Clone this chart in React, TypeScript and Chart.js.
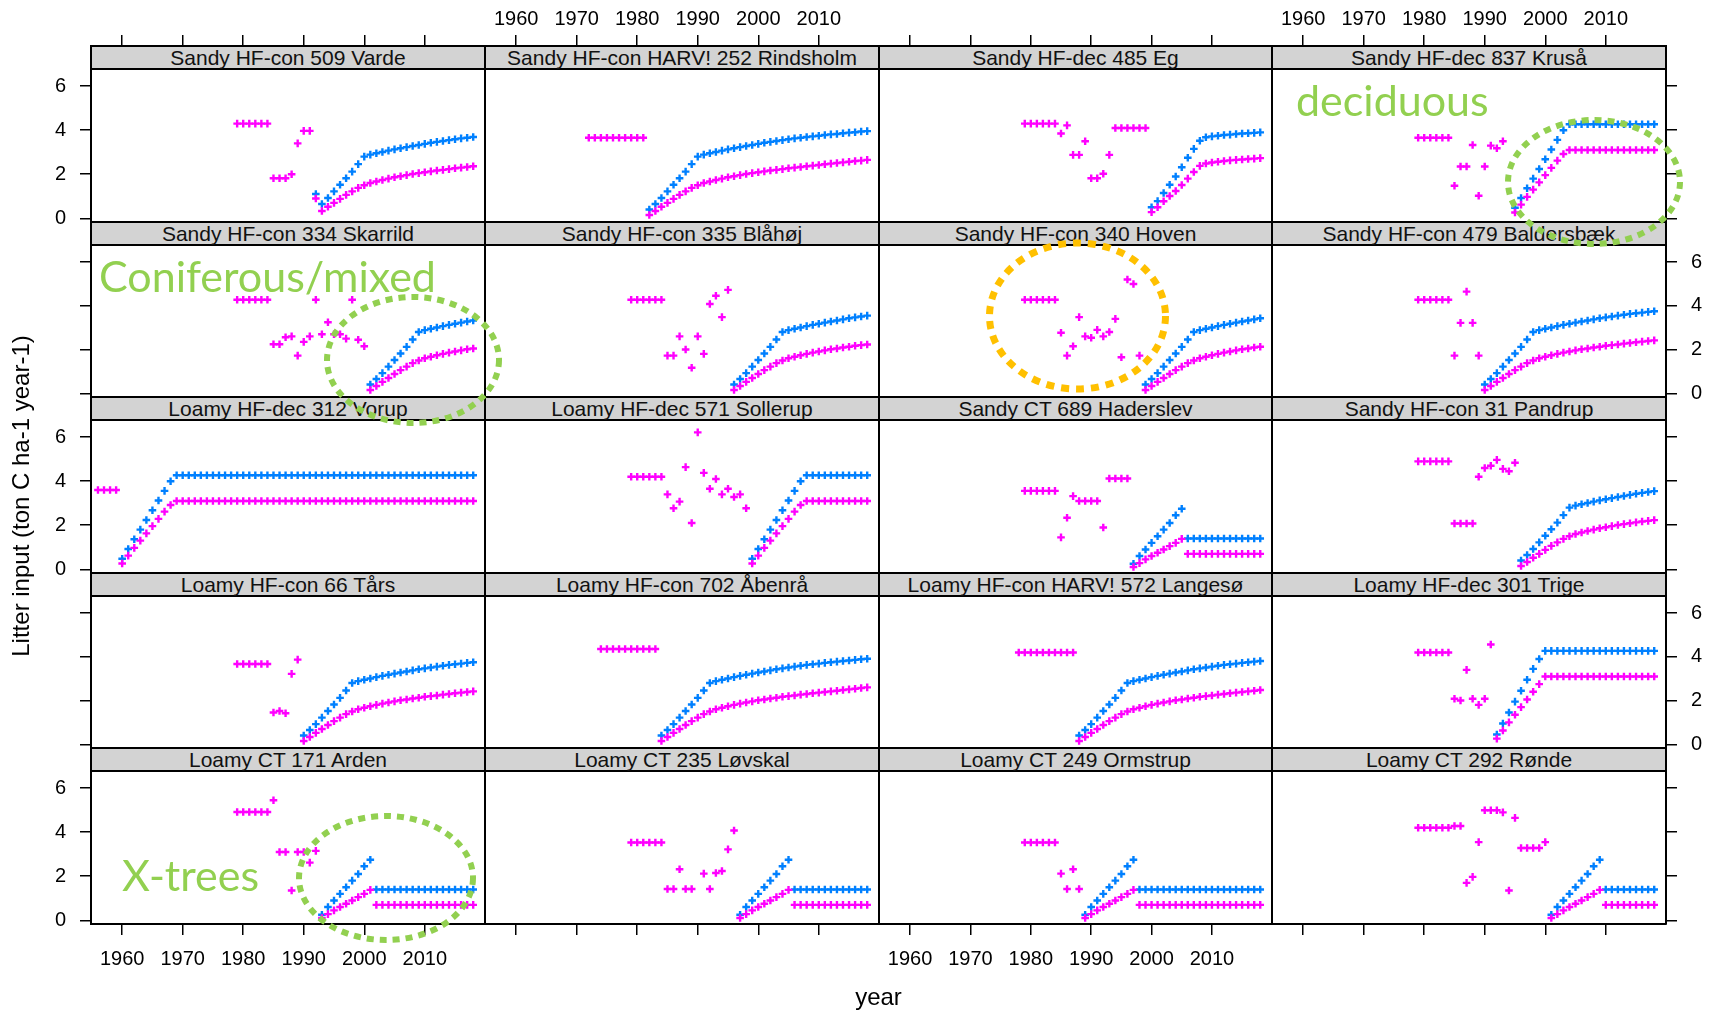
import React, { useEffect, useRef } from 'react';
import { Chart, registerables } from 'chart.js';

Chart.register(...registerables);

// ---------------- axes ----------------
const X_MIN = 1954.85;
const X_MAX = 2019.95;
const Y_MIN = -0.17;
const Y_MAX = 6.78;
const YEAR_TICKS = [1960, 1970, 1980, 1990, 2000, 2010];
const VALUE_TICKS = [0, 2, 4, 6];

// ---------------- data ----------------
// each panel: first year of the two modelled series, the series values per year,
// and the earlier magenta observations as [year, value]

// Sandy HF-con 509 Varde
const vardeFrom = 1992;
const vardeBlue = [1.10, 0.65, 0.92, 1.22, 1.52, 1.82, 2.12, 2.46, 2.80, 2.89, 2.95, 3.01, 3.07, 3.13, 3.18, 3.23, 3.28, 3.33, 3.38, 3.43, 3.47, 3.51, 3.55, 3.59, 3.63, 3.66, 3.69];
const vardePink = [0.90, 0.33, 0.52, 0.70, 0.88, 1.06, 1.22, 1.38, 1.50, 1.60, 1.67, 1.74, 1.80, 1.86, 1.91, 1.96, 2.01, 2.05, 2.09, 2.13, 2.17, 2.20, 2.23, 2.27, 2.30, 2.33, 2.36];
const vardeObs = [[1979, 4.3], [1980, 4.3], [1981, 4.3], [1982, 4.3], [1983, 4.3], [1984, 4.3], [1985, 1.82], [1986, 1.82], [1987, 1.82], [1988, 2.0], [1989, 3.4], [1990, 3.97], [1991, 3.97]];

// Sandy HF-con HARV! 252 Rindsholm
const rindsholmFrom = 1982;
const rindsholmBlue = [0.40, 0.65, 0.92, 1.22, 1.52, 1.82, 2.12, 2.46, 2.80, 2.89, 2.95, 3.01, 3.07, 3.13, 3.18, 3.23, 3.28, 3.33, 3.38, 3.43, 3.47, 3.51, 3.55, 3.59, 3.63, 3.66, 3.69, 3.72, 3.75, 3.78, 3.81, 3.83, 3.86, 3.89, 3.91, 3.94, 3.96];
const rindsholmPink = [0.15, 0.33, 0.52, 0.70, 0.88, 1.06, 1.22, 1.38, 1.50, 1.60, 1.67, 1.74, 1.80, 1.86, 1.91, 1.96, 2.01, 2.05, 2.09, 2.13, 2.17, 2.20, 2.23, 2.27, 2.30, 2.33, 2.36, 2.39, 2.42, 2.45, 2.48, 2.51, 2.54, 2.57, 2.60, 2.62, 2.65];
const rindsholmObs = [[1972, 3.66], [1973, 3.66], [1974, 3.66], [1975, 3.66], [1976, 3.66], [1977, 3.66], [1978, 3.66], [1979, 3.66], [1980, 3.66], [1981, 3.66]];

// Sandy HF-dec 485 Eg
const egFrom = 2000;
const egBlue = [0.50, 0.78, 1.15, 1.52, 1.90, 2.32, 2.75, 3.15, 3.52, 3.68, 3.72, 3.75, 3.78, 3.80, 3.83, 3.85, 3.86, 3.88, 3.90];
const egPink = [0.28, 0.50, 0.77, 1.01, 1.24, 1.51, 1.80, 2.10, 2.38, 2.49, 2.53, 2.57, 2.60, 2.63, 2.65, 2.67, 2.69, 2.71, 2.73];
const egObs = [[1979, 4.3], [1980, 4.3], [1981, 4.3], [1982, 4.3], [1983, 4.3], [1984, 4.3], [1985, 3.85], [1986, 4.22], [1987, 2.88], [1988, 2.88], [1989, 3.5], [1990, 1.82], [1991, 1.82], [1992, 2.02], [1993, 2.88], [1994, 4.1], [1995, 4.1], [1996, 4.1], [1997, 4.1], [1998, 4.1], [1999, 4.1]];

// Sandy HF-dec 837 Kruså
const krusaFrom = 1995;
const krusaBlue = [0.48, 0.92, 1.36, 1.80, 2.24, 2.68, 3.12, 3.56, 4.00, 4.27, 4.27, 4.27, 4.27, 4.27, 4.27, 4.27, 4.27, 4.27, 4.27, 4.27, 4.27, 4.27, 4.27, 4.27];
const krusaPink = [0.26, 0.62, 0.97, 1.30, 1.63, 1.96, 2.29, 2.62, 2.92, 3.10, 3.10, 3.10, 3.10, 3.10, 3.10, 3.10, 3.10, 3.10, 3.10, 3.10, 3.10, 3.10, 3.10, 3.10];
const krusaObs = [[1979, 3.66], [1980, 3.66], [1981, 3.66], [1982, 3.66], [1983, 3.66], [1984, 3.66], [1985, 1.48], [1986, 2.35], [1987, 2.35], [1988, 3.33], [1989, 1.02], [1990, 2.35], [1991, 3.3], [1992, 3.18], [1993, 3.5]];

// Sandy HF-con 334 Skarrild
const skarrildFrom = 2001;
const skarrildBlue = [0.40, 0.65, 0.92, 1.22, 1.52, 1.82, 2.12, 2.46, 2.80, 2.89, 2.95, 3.01, 3.07, 3.13, 3.18, 3.23, 3.28, 3.33];
const skarrildPink = [0.15, 0.33, 0.52, 0.70, 0.88, 1.06, 1.22, 1.38, 1.50, 1.60, 1.67, 1.74, 1.80, 1.86, 1.91, 1.96, 2.01, 2.05];
const skarrildObs = [[1979, 4.28], [1980, 4.28], [1981, 4.28], [1982, 4.28], [1983, 4.28], [1984, 4.28], [1985, 2.24], [1986, 2.24], [1987, 2.56], [1988, 2.6], [1989, 1.72], [1990, 2.35], [1991, 2.6], [1992, 4.28], [1993, 2.7], [1994, 3.25], [1995, 2.7], [1996, 2.7], [1997, 2.5], [1998, 4.28], [1999, 2.45], [2000, 2.15]];

// Sandy HF-con 335 Blåhøj
const blahojFrom = 1996;
const blahojBlue = [0.40, 0.65, 0.92, 1.22, 1.52, 1.82, 2.12, 2.46, 2.80, 2.89, 2.95, 3.01, 3.07, 3.13, 3.18, 3.23, 3.28, 3.33, 3.38, 3.43, 3.47, 3.51, 3.55];
const blahojPink = [0.15, 0.33, 0.52, 0.70, 0.88, 1.06, 1.22, 1.38, 1.50, 1.60, 1.67, 1.74, 1.80, 1.86, 1.91, 1.96, 2.01, 2.05, 2.09, 2.13, 2.17, 2.20, 2.23];
const blahojObs = [[1979, 4.28], [1980, 4.28], [1981, 4.28], [1982, 4.28], [1983, 4.28], [1984, 4.28], [1985, 1.72], [1986, 1.72], [1987, 2.6], [1988, 2.0], [1989, 1.17], [1990, 2.6], [1991, 1.8], [1992, 4.08], [1993, 4.46], [1994, 3.48], [1995, 4.73]];

// Sandy HF-con 340 Hoven
const hovenFrom = 1999;
const hovenBlue = [0.40, 0.65, 0.92, 1.22, 1.52, 1.82, 2.12, 2.46, 2.80, 2.89, 2.95, 3.01, 3.07, 3.13, 3.18, 3.23, 3.28, 3.33, 3.38, 3.43];
const hovenPink = [0.15, 0.33, 0.52, 0.70, 0.88, 1.06, 1.22, 1.38, 1.50, 1.60, 1.67, 1.74, 1.80, 1.86, 1.91, 1.96, 2.01, 2.05, 2.09, 2.13];
const hovenObs = [[1979, 4.28], [1980, 4.28], [1981, 4.28], [1982, 4.28], [1983, 4.28], [1984, 4.28], [1985, 2.77], [1986, 1.72], [1987, 2.15], [1988, 3.48], [1989, 2.6], [1990, 2.54], [1991, 2.9], [1992, 2.6], [1993, 2.8], [1994, 3.4], [1995, 1.65], [1996, 5.2], [1997, 5.0], [1998, 1.72]];

// Sandy HF-con 479 Baldersbæk
const baldersbaekFrom = 1990;
const baldersbaekBlue = [0.40, 0.65, 0.92, 1.22, 1.52, 1.82, 2.12, 2.46, 2.80, 2.89, 2.95, 3.01, 3.07, 3.13, 3.18, 3.23, 3.28, 3.33, 3.38, 3.43, 3.47, 3.51, 3.55, 3.59, 3.63, 3.66, 3.69, 3.72, 3.75];
const baldersbaekPink = [0.15, 0.33, 0.52, 0.70, 0.88, 1.06, 1.22, 1.38, 1.50, 1.60, 1.67, 1.74, 1.80, 1.86, 1.91, 1.96, 2.01, 2.05, 2.09, 2.13, 2.17, 2.20, 2.23, 2.27, 2.30, 2.33, 2.36, 2.39, 2.42];
const baldersbaekObs = [[1979, 4.28], [1980, 4.28], [1981, 4.28], [1982, 4.28], [1983, 4.28], [1984, 4.28], [1985, 1.72], [1986, 3.22], [1987, 4.65], [1988, 3.22], [1989, 1.72]];

// Loamy HF-dec 312 Vorup
const vorupFrom = 1960;
const vorupBlue = [0.48, 0.92, 1.36, 1.80, 2.24, 2.68, 3.12, 3.56, 4.00,
  4.27, 4.27, 4.27, 4.27, 4.27, 4.27, 4.27, 4.27, 4.27, 4.27,
  4.27, 4.27, 4.27, 4.27, 4.27, 4.27, 4.27, 4.27, 4.27, 4.27,
  4.27, 4.27, 4.27, 4.27, 4.27, 4.27, 4.27, 4.27, 4.27, 4.27,
  4.27, 4.27, 4.27, 4.27, 4.27, 4.27, 4.27, 4.27, 4.27, 4.27,
  4.27, 4.27, 4.27, 4.27, 4.27, 4.27, 4.27, 4.27, 4.27, 4.27];
const vorupPink = [0.26, 0.62, 0.97, 1.30, 1.63, 1.96, 2.29, 2.62, 2.92,
  3.10, 3.10, 3.10, 3.10, 3.10, 3.10, 3.10, 3.10, 3.10, 3.10,
  3.10, 3.10, 3.10, 3.10, 3.10, 3.10, 3.10, 3.10, 3.10, 3.10,
  3.10, 3.10, 3.10, 3.10, 3.10, 3.10, 3.10, 3.10, 3.10, 3.10,
  3.10, 3.10, 3.10, 3.10, 3.10, 3.10, 3.10, 3.10, 3.10, 3.10,
  3.10, 3.10, 3.10, 3.10, 3.10, 3.10, 3.10, 3.10, 3.10, 3.10];
const vorupObs = [[1956, 3.6], [1957, 3.6], [1958, 3.6], [1959, 3.6]];

// Loamy HF-dec 571 Sollerup
const sollerupFrom = 1999;
const sollerupBlue = [0.48, 0.92, 1.36, 1.80, 2.24, 2.68, 3.12, 3.56, 4.00, 4.27, 4.27, 4.27, 4.27, 4.27, 4.27, 4.27, 4.27, 4.27, 4.27, 4.27];
const sollerupPink = [0.26, 0.62, 0.97, 1.30, 1.63, 1.96, 2.29, 2.62, 2.92, 3.10, 3.10, 3.10, 3.10, 3.10, 3.10, 3.10, 3.10, 3.10, 3.10, 3.10];
const sollerupObs = [[1979, 4.2], [1980, 4.2], [1981, 4.2], [1982, 4.2], [1983, 4.2], [1984, 4.2], [1985, 3.4], [1986, 2.77], [1987, 3.07], [1988, 4.64], [1989, 2.1], [1990, 6.22], [1991, 4.38], [1992, 3.66], [1993, 4.1], [1994, 3.4], [1995, 3.66], [1996, 3.28], [1997, 3.4], [1998, 2.77]];

// Sandy CT 689 Haderslev
const haderslevFrom = 1997;
const haderslevBlue = [0.25, 0.60, 0.90, 1.20, 1.50, 1.80, 2.10, 2.45, 2.75, 1.40, 1.40, 1.40, 1.40, 1.40, 1.40, 1.40, 1.40, 1.40, 1.40, 1.40, 1.40, 1.40];
const haderslevPink = [0.10, 0.28, 0.45, 0.60, 0.75, 0.90, 1.05, 1.20, 1.38, 0.70, 0.70, 0.70, 0.70, 0.70, 0.70, 0.70, 0.70, 0.70, 0.70, 0.70, 0.70, 0.70];
const haderslevObs = [[1979, 3.56], [1980, 3.56], [1981, 3.56], [1982, 3.56], [1983, 3.56], [1984, 3.56], [1985, 1.45], [1986, 2.34], [1987, 3.32], [1988, 3.1], [1989, 3.1], [1990, 3.1], [1991, 3.1], [1992, 1.9], [1993, 4.12], [1994, 4.12], [1995, 4.12], [1996, 4.12]];

// Sandy HF-con 31 Pandrup
const pandrupFrom = 1996;
const pandrupBlue = [0.40, 0.65, 0.92, 1.22, 1.52, 1.82, 2.12, 2.46, 2.80, 2.89, 2.95, 3.01, 3.07, 3.13, 3.18, 3.23, 3.28, 3.33, 3.38, 3.43, 3.47, 3.51, 3.55];
const pandrupPink = [0.15, 0.33, 0.52, 0.70, 0.88, 1.06, 1.22, 1.38, 1.50, 1.60, 1.67, 1.74, 1.80, 1.86, 1.91, 1.96, 2.01, 2.05, 2.09, 2.13, 2.17, 2.20, 2.23];
const pandrupObs = [[1979, 4.9], [1980, 4.9], [1981, 4.9], [1982, 4.9], [1983, 4.9], [1984, 4.9], [1985, 2.08], [1986, 2.08], [1987, 2.08], [1988, 2.08], [1989, 4.2], [1990, 4.6], [1991, 4.7], [1992, 4.97], [1993, 4.56], [1994, 4.45], [1995, 4.84]];

// Loamy HF-con 66 Tårs
const tarsFrom = 1990;
const tarsBlue = [0.40, 0.65, 0.92, 1.22, 1.52, 1.82, 2.12, 2.46, 2.80, 2.89, 2.95, 3.01, 3.07, 3.13, 3.18, 3.23, 3.28, 3.33, 3.38, 3.43, 3.47, 3.51, 3.55, 3.59, 3.63, 3.66, 3.69, 3.72, 3.75];
const tarsPink = [0.15, 0.33, 0.52, 0.70, 0.88, 1.06, 1.22, 1.38, 1.50, 1.60, 1.67, 1.74, 1.80, 1.86, 1.91, 1.96, 2.01, 2.05, 2.09, 2.13, 2.17, 2.20, 2.23, 2.27, 2.30, 2.33, 2.36, 2.39, 2.42];
const tarsObs = [[1979, 3.67], [1980, 3.67], [1981, 3.67], [1982, 3.67], [1983, 3.67], [1984, 3.67], [1985, 1.45], [1986, 1.52], [1987, 1.42], [1988, 3.22], [1989, 3.87]];

// Loamy HF-con 702 Åbenrå
const abenraFrom = 1984;
const abenraBlue = [0.40, 0.65, 0.92, 1.22, 1.52, 1.82, 2.12, 2.46, 2.80, 2.89, 2.95, 3.01, 3.07, 3.13, 3.18, 3.23, 3.28, 3.33, 3.38, 3.43, 3.47, 3.51, 3.55, 3.59, 3.63, 3.66, 3.69, 3.72, 3.75, 3.78, 3.81, 3.83, 3.86, 3.89, 3.91];
const abenraPink = [0.15, 0.33, 0.52, 0.70, 0.88, 1.06, 1.22, 1.38, 1.50, 1.60, 1.67, 1.74, 1.80, 1.86, 1.91, 1.96, 2.01, 2.05, 2.09, 2.13, 2.17, 2.20, 2.23, 2.27, 2.30, 2.33, 2.36, 2.39, 2.42, 2.45, 2.48, 2.51, 2.54, 2.57, 2.60];
const abenraObs = [[1974, 4.36], [1975, 4.36], [1976, 4.36], [1977, 4.36], [1978, 4.36], [1979, 4.36], [1980, 4.36], [1981, 4.36], [1982, 4.36], [1983, 4.36]];

// Loamy HF-con HARV! 572 Langesø
const langesoFrom = 1988;
const langesoBlue = [0.40, 0.65, 0.92, 1.22, 1.52, 1.82, 2.12, 2.46, 2.80, 2.89, 2.95, 3.01, 3.07, 3.13, 3.18, 3.23, 3.28, 3.33, 3.38, 3.43, 3.47, 3.51, 3.55, 3.59, 3.63, 3.66, 3.69, 3.72, 3.75, 3.78, 3.81];
const langesoPink = [0.15, 0.33, 0.52, 0.70, 0.88, 1.06, 1.22, 1.38, 1.50, 1.60, 1.67, 1.74, 1.80, 1.86, 1.91, 1.96, 2.01, 2.05, 2.09, 2.13, 2.17, 2.20, 2.23, 2.27, 2.30, 2.33, 2.36, 2.39, 2.42, 2.45, 2.48];
const langesoObs = [[1978, 4.2], [1979, 4.2], [1980, 4.2], [1981, 4.2], [1982, 4.2], [1983, 4.2], [1984, 4.2], [1985, 4.2], [1986, 4.2], [1987, 4.2]];

// Loamy HF-dec 301 Trige
const trigeFrom = 1992;
const trigeBlue = [0.45, 0.95, 1.45, 1.95, 2.45, 2.95, 3.45, 3.90, 4.27, 4.27, 4.27, 4.27, 4.27, 4.27, 4.27, 4.27, 4.27, 4.27, 4.27, 4.27, 4.27, 4.27, 4.27, 4.27, 4.27, 4.27, 4.27];
const trigePink = [0.26, 0.63, 1.00, 1.35, 1.70, 2.05, 2.40, 2.75, 3.10, 3.10, 3.10, 3.10, 3.10, 3.10, 3.10, 3.10, 3.10, 3.10, 3.10, 3.10, 3.10, 3.10, 3.10, 3.10, 3.10, 3.10, 3.10];
const trigeObs = [[1979, 4.2], [1980, 4.2], [1981, 4.2], [1982, 4.2], [1983, 4.2], [1984, 4.2], [1985, 2.08], [1986, 2.0], [1987, 3.4], [1988, 2.08], [1989, 1.8], [1990, 2.08], [1991, 4.56]];

// Loamy CT 171 Arden
const ardenFrom = 1993;
const ardenBlue = [0.25, 0.60, 0.90, 1.20, 1.50, 1.80, 2.10, 2.45, 2.75, 1.40, 1.40, 1.40, 1.40, 1.40, 1.40, 1.40, 1.40, 1.40, 1.40, 1.40, 1.40, 1.40, 1.40, 1.40, 1.40, 1.40];
const ardenPink = [0.10, 0.28, 0.45, 0.60, 0.75, 0.90, 1.05, 1.20, 1.38, 0.70, 0.70, 0.70, 0.70, 0.70, 0.70, 0.70, 0.70, 0.70, 0.70, 0.70, 0.70, 0.70, 0.70, 0.70, 0.70, 0.70];
const ardenObs = [[1979, 4.92], [1980, 4.92], [1981, 4.92], [1982, 4.92], [1983, 4.92], [1984, 4.92], [1985, 5.45], [1986, 3.1], [1987, 3.1], [1988, 1.35], [1989, 3.1], [1990, 3.1], [1991, 2.62], [1992, 3.15]];

// Loamy CT 235 Løvskal
const lovskalFrom = 1997;
const lovskalBlue = [0.25, 0.60, 0.90, 1.20, 1.50, 1.80, 2.10, 2.45, 2.75, 1.40, 1.40, 1.40, 1.40, 1.40, 1.40, 1.40, 1.40, 1.40, 1.40, 1.40, 1.40, 1.40];
const lovskalPink = [0.10, 0.28, 0.45, 0.60, 0.75, 0.90, 1.05, 1.20, 1.38, 0.70, 0.70, 0.70, 0.70, 0.70, 0.70, 0.70, 0.70, 0.70, 0.70, 0.70, 0.70, 0.70];
const lovskalObs = [[1979, 3.53], [1980, 3.53], [1981, 3.53], [1982, 3.53], [1983, 3.53], [1984, 3.53], [1985, 1.42], [1986, 1.42], [1987, 2.32], [1988, 1.42], [1989, 1.42], [1991, 2.12], [1992, 1.42], [1993, 2.15], [1994, 2.24], [1995, 3.22], [1996, 4.08]];

// Loamy CT 249 Ormstrup
const ormstrupFrom = 1989;
const ormstrupBlue = [0.25, 0.60, 0.90, 1.20, 1.50, 1.80, 2.10, 2.45, 2.75, 1.40, 1.40, 1.40, 1.40, 1.40, 1.40, 1.40, 1.40, 1.40, 1.40, 1.40, 1.40, 1.40, 1.40, 1.40, 1.40, 1.40, 1.40, 1.40, 1.40, 1.40];
const ormstrupPink = [0.10, 0.28, 0.45, 0.60, 0.75, 0.90, 1.05, 1.20, 1.38, 0.70, 0.70, 0.70, 0.70, 0.70, 0.70, 0.70, 0.70, 0.70, 0.70, 0.70, 0.70, 0.70, 0.70, 0.70, 0.70, 0.70, 0.70, 0.70, 0.70, 0.70];
const ormstrupObs = [[1979, 3.53], [1980, 3.53], [1981, 3.53], [1982, 3.53], [1983, 3.53], [1984, 3.53], [1985, 2.12], [1986, 1.42], [1987, 2.32], [1988, 1.42]];

// Loamy CT 292 Rønde
const rondeFrom = 2001;
const rondeBlue = [0.25, 0.60, 0.90, 1.20, 1.50, 1.80, 2.10, 2.45, 2.75, 1.40, 1.40, 1.40, 1.40, 1.40, 1.40, 1.40, 1.40, 1.40];
const rondePink = [0.10, 0.28, 0.45, 0.60, 0.75, 0.90, 1.05, 1.20, 1.38, 0.70, 0.70, 0.70, 0.70, 0.70, 0.70, 0.70, 0.70, 0.70];
const rondeObs = [[1979, 4.2], [1980, 4.2], [1981, 4.2], [1982, 4.2], [1983, 4.2], [1984, 4.2], [1985, 4.28], [1986, 4.28], [1987, 1.7], [1988, 1.97], [1989, 3.55], [1990, 5.0], [1991, 5.0], [1992, 5.0], [1993, 4.9], [1994, 1.35], [1995, 4.65], [1996, 3.28], [1997, 3.28], [1998, 3.28], [1999, 3.28], [2000, 3.55]];

type PanelDef = { title: string; from: number; blue: number[]; pink: number[]; obs: number[][] };

const PANELS: PanelDef[] = [
  { title: 'Sandy HF-con 509 Varde', from: vardeFrom, blue: vardeBlue, pink: vardePink, obs: vardeObs },
  { title: 'Sandy HF-con HARV! 252 Rindsholm', from: rindsholmFrom, blue: rindsholmBlue, pink: rindsholmPink, obs: rindsholmObs },
  { title: 'Sandy HF-dec 485 Eg', from: egFrom, blue: egBlue, pink: egPink, obs: egObs },
  { title: 'Sandy HF-dec 837 Kruså', from: krusaFrom, blue: krusaBlue, pink: krusaPink, obs: krusaObs },
  { title: 'Sandy HF-con 334 Skarrild', from: skarrildFrom, blue: skarrildBlue, pink: skarrildPink, obs: skarrildObs },
  { title: 'Sandy HF-con 335 Blåhøj', from: blahojFrom, blue: blahojBlue, pink: blahojPink, obs: blahojObs },
  { title: 'Sandy HF-con 340 Hoven', from: hovenFrom, blue: hovenBlue, pink: hovenPink, obs: hovenObs },
  { title: 'Sandy HF-con 479 Baldersbæk', from: baldersbaekFrom, blue: baldersbaekBlue, pink: baldersbaekPink, obs: baldersbaekObs },
  { title: 'Loamy HF-dec 312 Vorup', from: vorupFrom, blue: vorupBlue, pink: vorupPink, obs: vorupObs },
  { title: 'Loamy HF-dec 571 Sollerup', from: sollerupFrom, blue: sollerupBlue, pink: sollerupPink, obs: sollerupObs },
  { title: 'Sandy CT 689 Haderslev', from: haderslevFrom, blue: haderslevBlue, pink: haderslevPink, obs: haderslevObs },
  { title: 'Sandy HF-con 31 Pandrup', from: pandrupFrom, blue: pandrupBlue, pink: pandrupPink, obs: pandrupObs },
  { title: 'Loamy HF-con 66 Tårs', from: tarsFrom, blue: tarsBlue, pink: tarsPink, obs: tarsObs },
  { title: 'Loamy HF-con 702 Åbenrå', from: abenraFrom, blue: abenraBlue, pink: abenraPink, obs: abenraObs },
  { title: 'Loamy HF-con HARV! 572 Langesø', from: langesoFrom, blue: langesoBlue, pink: langesoPink, obs: langesoObs },
  { title: 'Loamy HF-dec 301 Trige', from: trigeFrom, blue: trigeBlue, pink: trigePink, obs: trigeObs },
  { title: 'Loamy CT 171 Arden', from: ardenFrom, blue: ardenBlue, pink: ardenPink, obs: ardenObs },
  { title: 'Loamy CT 235 Løvskal', from: lovskalFrom, blue: lovskalBlue, pink: lovskalPink, obs: lovskalObs },
  { title: 'Loamy CT 249 Ormstrup', from: ormstrupFrom, blue: ormstrupBlue, pink: ormstrupPink, obs: ormstrupObs },
  { title: 'Loamy CT 292 Rønde', from: rondeFrom, blue: rondeBlue, pink: rondePink, obs: rondeObs },
];

// ---------------- styling & layout ----------------
const BLUE = '#0080FF';
const MAGENTA = '#FF00FF';
const STRIP_BG = '#D3D3D3';
const GREEN = '#92D050';
const ORANGE = '#FFC000';
const FONT = 'Liberation Sans';
const FONT_CSS = '"Liberation Sans", Arial, sans-serif';

const FRAME_LEFT = 91;
const FRAME_RIGHT = 1666;
const FRAME_TOP = 46;
const FRAME_BOTTOM = 923.5;
const NCOL = 4;
const NROW = 5;
const STRIP_H = 23;
const MARGIN = 60;
const TICK_LEN = 11;

const colEdge = (c: number) => Math.round(FRAME_LEFT + (c * (FRAME_RIGHT - FRAME_LEFT)) / NCOL);
const rowEdge = (r: number) => Math.round(FRAME_TOP + (r * (FRAME_BOTTOM - FRAME_TOP)) / NROW);

const seriesPoints = (from: number, vals: number[]) => vals.map((v, i) => ({ x: from + i, y: v }));
const obsPoints = (obs: number[][]) => obs.map(([x, y]) => ({ x, y }));

function Panel({ index }: { index: number }) {
  const ref = useRef<HTMLCanvasElement | null>(null);
  const c = index % NCOL;
  const r = Math.floor(index / NCOL);
  const x0 = colEdge(c);
  const x1 = colEdge(c + 1);
  const y0 = rowEdge(r);
  const y1 = rowEdge(r + 1);
  const w = x1 - x0;
  const h = y1 - y0;
  const cw = w + 2 * MARGIN;
  const ch = h + 2 * MARGIN;

  useEffect(() => {
    const p = PANELS[index];
    // the strip sits inside the chart area; extend the value range over it
    const yTop = Y_MAX + (STRIP_H * (Y_MAX - Y_MIN)) / (h - STRIP_H);
    const tickFont = { family: FONT, size: 20 };

    const axis = (position: string, isX: boolean, showTicks: boolean, showLabels: boolean, pad: number) => ({
      type: 'linear',
      position,
      min: isX ? X_MIN : Y_MIN,
      max: isX ? X_MAX : yTop,
      afterBuildTicks: (s: any) => {
        s.ticks = (isX ? YEAR_TICKS : VALUE_TICKS).map((v) => ({ value: v }));
      },
      afterFit: (s: any) => {
        if (isX) s.height = MARGIN;
        else s.width = MARGIN;
      },
      grid: {
        display: showTicks,
        drawOnChartArea: false,
        drawTicks: true,
        tickLength: TICK_LEN,
        color: '#000',
        lineWidth: 1.5,
      },
      border: { display: true, color: '#000', width: 2 },
      ticks: {
        display: showLabels,
        padding: pad,
        font: tickFont,
        color: '#000',
        autoSkip: false,
        maxRotation: 0,
        minRotation: 0,
        callback: (v: any) => String(v),
      },
    });

    const marker = { pointStyle: 'cross', pointRadius: 3.8, pointBorderWidth: 2.4, xAxisID: 'x', yAxisID: 'y' };

    const chart = new Chart(ref.current as HTMLCanvasElement, {
      type: 'scatter',
      data: {
        datasets: [
          {
            label: 'magenta',
            data: [...obsPoints(p.obs), ...seriesPoints(p.from, p.pink)],
            borderColor: MAGENTA,
            backgroundColor: MAGENTA,
            ...marker,
          },
          {
            label: 'blue',
            data: seriesPoints(p.from, p.blue),
            borderColor: BLUE,
            backgroundColor: BLUE,
            ...marker,
          },
        ],
      },
      options: {
        responsive: false,
        animation: false,
        devicePixelRatio: 1,
        events: [],
        layout: { padding: 0, autoPadding: false },
        plugins: { legend: { display: false }, tooltip: { enabled: false }, title: { display: false } },
        scales: {
          x: axis('bottom', true, r === NROW - 1, r === NROW - 1 && c % 2 === 0, 12),
          x2: axis('top', true, r === 0, r === 0 && c % 2 === 1, 4),
          y: axis('left', false, c === 0, c === 0 && r % 2 === 0, 14),
          y2: axis('right', false, c === NCOL - 1, c === NCOL - 1 && r % 2 === 1, 14),
        },
      } as any,
    } as any);
    return () => chart.destroy();
  }, [index, h]);

  return (
    <canvas
      ref={ref}
      width={cw}
      height={ch}
      style={{ position: 'absolute', left: x0 - MARGIN, top: y0 - MARGIN, width: cw, height: ch }}
    />
  );
}

function Strip({ index }: { index: number }) {
  const c = index % NCOL;
  const r = Math.floor(index / NCOL);
  const x0 = colEdge(c);
  const x1 = colEdge(c + 1);
  const y0 = rowEdge(r);
  return (
    <div
      style={{
        position: 'absolute',
        left: x0 - 1,
        top: y0 - 1,
        width: x1 - x0 + 2,
        height: STRIP_H + 2,
        boxSizing: 'border-box',
        border: '2px solid #000',
        background: STRIP_BG,
        fontFamily: FONT_CSS,
        fontSize: 21,
        lineHeight: `${STRIP_H - 2}px`,
        textAlign: 'center',
        color: '#111',
        whiteSpace: 'nowrap',
      }}
    >
      {PANELS[index].title}
    </div>
  );
}

export default function App() {
  return (
    <div
      style={{
        position: 'absolute',
        left: 0,
        top: 0,
        width: 1710,
        height: 1011,
        overflow: 'hidden',
        background: '#fff',
      }}
    >
      {PANELS.map((_, i) => (
        <Panel key={`p${i}`} index={i} />
      ))}
      {PANELS.map((_, i) => (
        <Strip key={`s${i}`} index={i} />
      ))}
      <svg
        width={1710}
        height={1011}
        style={{ position: 'absolute', left: 0, top: 0, pointerEvents: 'none' }}
      >
        <text
          transform="translate(29,496) rotate(-90)"
          textAnchor="middle"
          fontFamily={FONT_CSS}
          fontSize={24}
          fill="#000"
        >
          Litter input (ton C ha-1 year-1)
        </text>
        <text x={878.5} y={1005} textAnchor="middle" fontFamily={FONT_CSS} fontSize={24} fill="#000">
          year
        </text>

        <ellipse cx={1594} cy={182} rx={86} ry={62} fill="none" stroke={GREEN} strokeWidth={6} strokeDasharray="7 6" />
        <ellipse cx={413} cy={360} rx={86} ry={63} fill="none" stroke={GREEN} strokeWidth={6} strokeDasharray="7 6" />
        <ellipse cx={1077.5} cy={316} rx={88} ry={73} fill="none" stroke={ORANGE} strokeWidth={7} strokeDasharray="8 7" />
        <ellipse cx={386} cy={878} rx={87} ry={62} fill="none" stroke={GREEN} strokeWidth={6} strokeDasharray="7 6" />

        <text x={1296} y={116} fontFamily="Lato, sans-serif" fontSize={43} fill={GREEN}>
          deciduous
        </text>
        <text x={99} y={292} fontFamily="Lato, sans-serif" fontSize={43} fill={GREEN}>
          Coniferous/mixed
        </text>
        <text x={122} y={891} fontFamily="Lato, sans-serif" fontSize={43} fill={GREEN}>
          X-trees
        </text>
      </svg>
    </div>
  );
}
